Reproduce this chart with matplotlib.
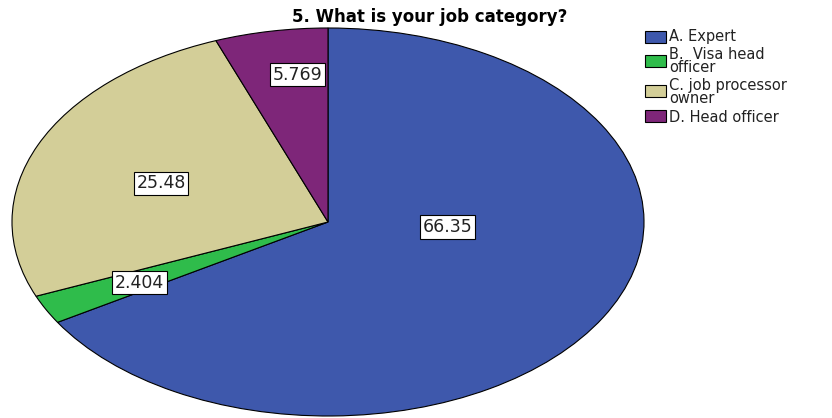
import matplotlib.pyplot as plt
from matplotlib.patches import Rectangle

plt.rcParams['font.family'] = ['DejaVu Sans']

labels = ['A. Expert', 'B.  Visa head\nofficer', 'C. job processor\nowner', 'D. Head officer']
values = [66.35, 2.404, 25.48, 5.769]
value_text = ['66.35', '2.404', '25.48', '5.769']
colors = ['#3e58ac', '#2fbc4b', '#d3ce98', '#7e2679']
# label spots (axes fraction)
label_pos = [(0.689, 0.487), (0.202, 0.344), (0.236, 0.600), (0.452, 0.880)]

fig = plt.figure(figsize=(8.32, 4.18), dpi=100)
ax = fig.add_axes([12/832, 2/418, 632/832, 388/418])
wedges, _ = ax.pie(values, colors=colors, startangle=90, counterclock=False,
                   wedgeprops=dict(edgecolor='black', linewidth=0.8))
ax.set_aspect('auto')
ax.set_xlim(-1.0, 1.0)
ax.set_ylim(-1.0, 1.0)

for (x, y), t in zip(label_pos, value_text):
    ax.text(x, y, t, transform=ax.transAxes, ha='center', va='center', fontsize=12.5,
            color='#222222',
            bbox=dict(boxstyle='square,pad=0.15', facecolor='white', edgecolor='black', linewidth=0.8))

fig.text(430/832, 1 - 17/418, '5. What is your job category?', ha='center', va='center',
         fontsize=12, fontweight='bold')

# legend
patch_y = [37, 61, 91, 116]
text_y = [36, 61, 92, 117]
for c, lab, py, ty in zip(colors, labels, patch_y, text_y):
    fig.patches.append(Rectangle((645/832, 1 - (py + 6)/418), 21/832, 12/418,
                                 transform=fig.transFigure, facecolor=c,
                                 edgecolor='black', linewidth=0.8))
    fig.text(669/832, 1 - ty/418, lab, ha='left', va='center', fontsize=10.5,
             linespacing=0.8, color='#222222')

fig.savefig('out.png', dpi=100)
